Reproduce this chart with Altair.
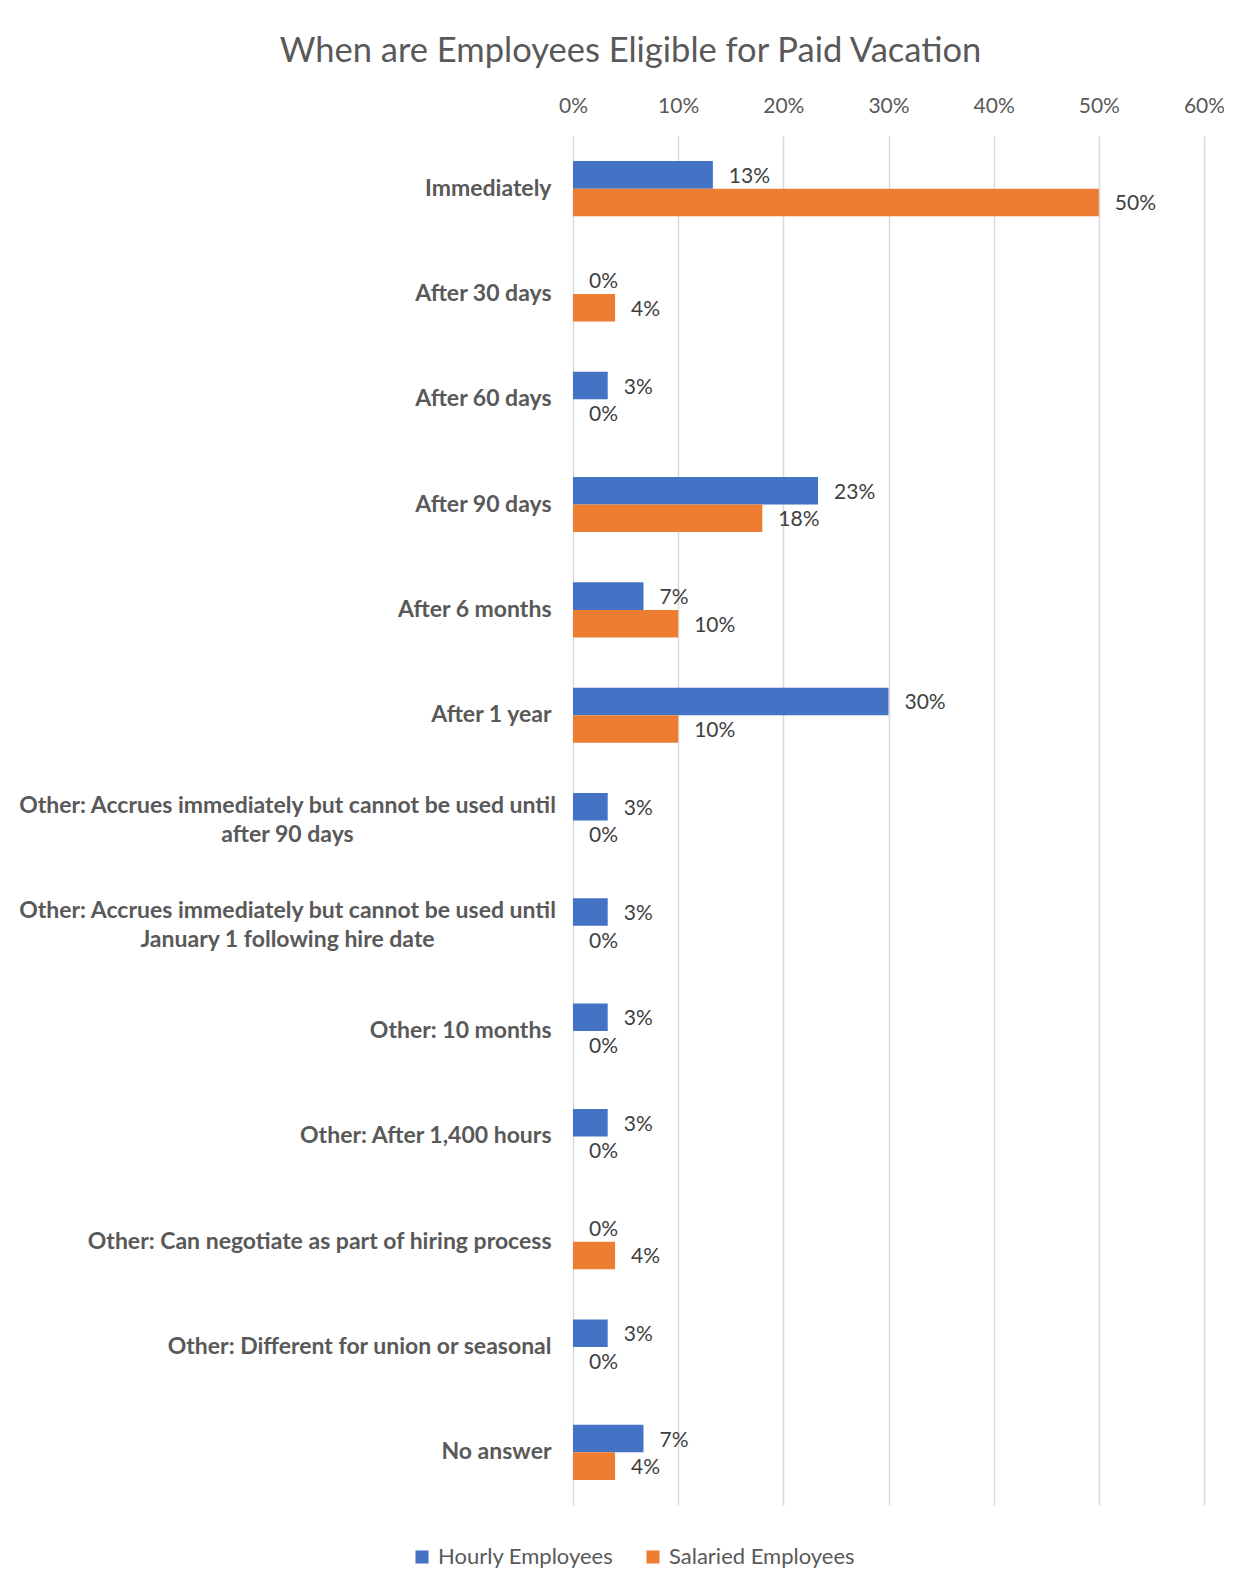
import altair as alt
import pandas as pd

categories = [
    "Immediately",
    "After 30 days",
    "After 60 days",
    "After 90 days",
    "After 6 months",
    "After 1 year",
    "Other: Accrues immediately but cannot be used until\nafter 90 days",
    "Other: Accrues immediately but cannot be used until\nJanuary 1 following hire date",
    "Other: 10 months",
    "Other: After 1,400 hours",
    "Other: Can negotiate as part of hiring process",
    "Other: Different for union or seasonal",
    "No answer",
]
hourly = [0.133, 0.0, 0.033, 0.233, 0.067, 0.30, 0.033, 0.033, 0.033, 0.033, 0.0, 0.033, 0.067]
salaried = [0.50, 0.04, 0.0, 0.18, 0.10, 0.10, 0.0, 0.0, 0.0, 0.0, 0.04, 0.0, 0.04]
series = ["Hourly Employees", "Salaried Employees"]
colors = ["#4472C4", "#ED7D31"]
x_ticks = [0, 0.1, 0.2, 0.3, 0.4, 0.5, 0.6]

rows = []
for c, h, s in zip(categories, hourly, salaried):
    rows.append({"cat": c, "series": series[0], "value": h})
    rows.append({"cat": c, "series": series[1], "value": s})
df = pd.DataFrame(rows)

FONT = "Lato"
multi = "indexof(datum.value, '\\n') >= 0"

y_enc = alt.Y(
    "cat:N",
    sort=categories,
    title=None,
    scale=alt.Scale(paddingInner=0.477, paddingOuter=0.2385),
    axis=alt.Axis(
        labelExpr="split(datum.label, '\\n')",
        labelFont=FONT,
        labelFontWeight="bold",
        labelFontSize=23,
        labelColor="#595959",
        labelPadding={"condition": {"test": multi, "value": 286}, "value": 22},
        labelAlign={"condition": {"test": multi, "value": "center"}, "value": "right"},
        labelOffset={"condition": {"test": multi, "value": -14.5}, "value": 0},
        labelLimit=700,
        labelLineHeight=29,
        ticks=False,
        domain=False,
    ),
)
yoff = alt.YOffset("series:N", sort=series)

base = alt.Chart(df)

bars = base.mark_bar().encode(
    y=y_enc,
    yOffset=yoff,
    x=alt.X(
        "value:Q",
        title=None,
        scale=alt.Scale(domain=[0, 0.6], nice=False),
        axis=alt.Axis(
            orient="top",
            values=x_ticks,
            format=".0%",
            labelFont=FONT,
            labelFontSize=21,
            labelColor="#595959",
            labelPadding=20,
            labelFlush=False,
            ticks=False,
            domain=False,
            grid=True,
            gridColor="#D9D9D9",
            gridWidth=1.5,
        ),
    ),
    color=alt.Color(
        "series:N",
        sort=series,
        scale=alt.Scale(domain=series, range=colors),
        legend=alt.Legend(
            title=None,
            orient="none",
            legendX=-162,
            legendY=1410,
            direction="horizontal",
            symbolType="square",
            symbolSize=170,
            symbolStrokeWidth=0,
            labelFont=FONT,
            labelFontSize=22,
            labelColor="#595959",
            labelLimit=400,
            columnPadding=28,
            labelOffset=5,
        ),
    ),
)

labels = base.mark_text(
    align="left", baseline="middle", dx=16, dy=2, font=FONT, fontSize=21, color="#404040"
).encode(
    y=alt.Y("cat:N", sort=categories),
    yOffset=yoff,
    x=alt.X("value:Q"),
    text=alt.Text("value:Q", format=".0%"),
)

chart = (
    alt.layer(bars, labels)
    .properties(
        width=631,
        height=1369,
        title=alt.TitleParams(
            "When are Employees Eligible for Paid Vacation",
            font=FONT,
            fontWeight="normal",
            fontSize=34.5,
            color="#595959",
            anchor="middle",
            frame="group",
            dx=-258,
            offset=26,
        ),
        autosize=alt.AutoSizeParams(type="none"),
        padding={"left": 565, "top": 128, "right": 20, "bottom": 74},
    )
    .configure_view(stroke=None)
)

chart.save("out.html", embed_options={"renderer": "svg", "actions": False})
